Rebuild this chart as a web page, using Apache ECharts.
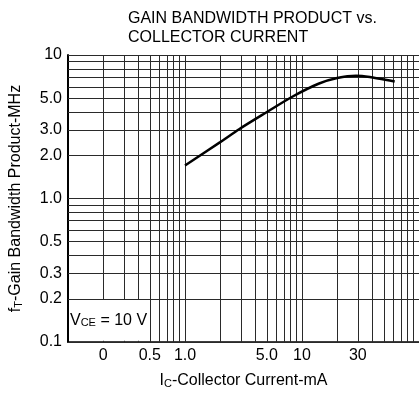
<!DOCTYPE html>
<html>
<head>
<meta charset="utf-8">
<script src="https://cdn.jsdelivr.net/npm/echarts@6/dist/echarts.min.js"></script>
<style>
  html, body { margin: 0; padding: 0; background: #fff; }
  #chart { width: 419px; height: 394px; }
</style>
</head>
<body>
<div id="chart"></div>
<script>
// curve (Ic in mA, fT in MHz)
const currentMA = [1, 2, 2.9, 4.9, 8.4, 14, 20, 29, 38, 62];
const gainMHz = [1.7, 2.47, 3.04, 3.96, 5.16, 6.33, 6.91, 7.17, 7.02, 6.54];

// log grid lines
const xGridVals = [0.2, 0.3, 0.4, 0.5, 0.6, 0.7, 0.8, 0.9, 1, 2, 3, 4, 5, 6, 7, 8, 9, 10, 20, 30, 40, 50, 60, 70, 80, 90, 100];
const yGridVals = [0.1, 0.2, 0.3, 0.4, 0.5, 0.6, 0.7, 0.8, 0.9, 1, 2, 3, 4, 5, 6, 7, 8, 9, 10];

// tick labels as printed on the chart
const xTickVals = [0.2, 0.5, 1, 5, 10, 30];
const xTickLabels = ["0", "0.5", "1.0", "5.0", "10", "30"];
const yTickVals = [0.1, 0.2, 0.3, 0.5, 1, 2, 3, 5, 10];
const yTickLabels = ["0.1", "0.2", "0.3", "0.5", "1.0", "2.0", "3.0", "5.0", "10"];

const FONT = "Liberation Sans, Arial, sans-serif";
const gridColor = "#2a2a2a";

const chart = echarts.init(document.getElementById("chart"));

const vLines = xGridVals.map(v => {
  const i = xTickVals.indexOf(v);
  return {
    xAxis: v,
    label: i >= 0
      ? { show: true, position: "start", distance: 6, formatter: xTickLabels[i], color: "#000", fontSize: 16, fontFamily: FONT }
      : { show: false }
  };
});
const hLines = yGridVals.map(v => {
  const i = yTickVals.indexOf(v);
  return {
    yAxis: v,
    label: i >= 0
      ? { show: true, position: "start", distance: 6, formatter: yTickLabels[i], color: "#000", fontSize: 16, fontFamily: FONT }
      : { show: false }
  };
});

const option = {
  animation: false,
  backgroundColor: "#fff",
  title: {
    text: "GAIN BANDWIDTH PRODUCT vs.\nCOLLECTOR CURRENT",
    left: 128,
    top: 9,
    padding: 0,
    textStyle: { fontSize: 16, fontWeight: "normal", color: "#000", fontFamily: FONT, lineHeight: 19 }
  },
  grid: { left: 67, right: 0, top: 55, bottom: 50 },
  xAxis: {
    type: "log",
    logBase: 10,
    min: 0.1,
    max: 100,
    name: "{n|I}{s|C}{n|-Collector Current-mA}",
    nameLocation: "middle",
    nameGap: 31,
    nameTextStyle: {
      rich: {
        n: { fontSize: 16, fontFamily: FONT, color: "#000", verticalAlign: "bottom" },
        s: { fontSize: 11, fontFamily: FONT, color: "#000", verticalAlign: "bottom" }
      }
    },
    axisLine: { show: true, lineStyle: { color: "#000", width: 1.5 } },
    axisTick: { show: false },
    axisLabel: { show: false },
    splitLine: { show: false },
    minorSplitLine: { show: false }
  },
  yAxis: {
    type: "log",
    logBase: 10,
    min: 0.1,
    max: 10,
    name: "{n|f}{s|T}{n|-Gain Bandwidth Product-MHz}",
    nameLocation: "middle",
    nameRotate: 90,
    nameGap: 44,
    nameTextStyle: {
      rich: {
        n: { fontSize: 16, fontFamily: FONT, color: "#000", verticalAlign: "bottom" },
        s: { fontSize: 11, fontFamily: FONT, color: "#000", verticalAlign: "bottom" }
      }
    },
    axisLine: { show: true, lineStyle: { color: "#000", width: 2 } },
    axisTick: { show: false },
    axisLabel: { show: false },
    splitLine: { show: false },
    minorSplitLine: { show: false }
  },
  series: [
    {
      // grid lines + printed tick labels
      type: "line",
      data: [],
      z: 1,
      clip: false,
      silent: true,
      symbol: "none",
      markLine: {
        z: 1,
        silent: true,
        symbol: ["none", "none"],
        animation: false,
        lineStyle: { type: "solid", color: gridColor, width: 1 },
        emphasis: { disabled: true },
        data: vLines.concat(hLines)
      }
    },
    {
      // blank box for the test condition note
      type: "line",
      data: [],
      z: 3,
      silent: true,
      markArea: {
        z: 3,
        silent: true,
        itemStyle: { color: "#fff", opacity: 1 },
        label: {
          show: true,
          position: "insideLeft",
          distance: 1,
          formatter: "{v|V}{s|CE}{v| = 10 V}",
          rich: {
            v: { fontSize: 16, fontFamily: FONT, color: "#000", verticalAlign: "bottom" },
            s: { fontSize: 11, fontFamily: FONT, color: "#000", verticalAlign: "bottom" }
          }
        },
        emphasis: { disabled: true },
        data: [[{ xAxis: 0.102, yAxis: 0.102 }, { xAxis: 0.492, yAxis: 0.196 }]]
      }
    },
    {
      name: "fT",
      type: "line",
      z: 5,
      data: currentMA.map((x, i) => [x, gainMHz[i]]),
      smooth: 0.3,
      symbol: "none",
      lineStyle: { color: "#000", width: 2.5 }
    }
  ]
};

chart.setOption(option);
</script>
</body>
</html>
